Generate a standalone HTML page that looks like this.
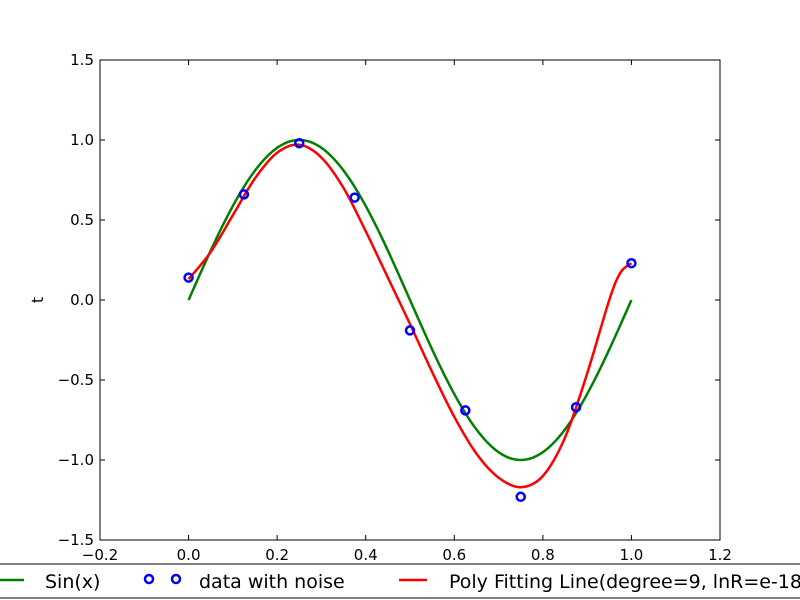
<!DOCTYPE html>
<html><head><meta charset="utf-8"><style>
body{margin:0;background:#fff;}
svg{display:block;font-family:"DejaVu Sans","Liberation Sans",sans-serif;}
</style></head><body>
<svg id="c" width="800" height="600"></svg>
<script>
const xTicks=[-0.2,0,0.2,0.4,0.6,0.8,1.0,1.2];
const xTickLabels=["\u22120.2","0.0","0.2","0.4","0.6","0.8","1.0","1.2"];
const yTicks=[-1.5,-1.0,-0.5,0,0.5,1.0,1.5];
const yTickLabels=["\u22121.5","\u22121.0","\u22120.5","0.0","0.5","1.0","1.5"];
const dataX=[0,0.125,0.25,0.375,0.5,0.625,0.75,0.875,1.0];
const dataT=[0.14,0.66,0.98,0.64,-0.19,-0.69,-1.23,-0.67,0.23];
const fitX=[0,0.05,0.1,0.15,0.2,0.25,0.3,0.35,0.4,0.45,0.5,0.55,0.6,0.65,0.7,0.75,0.8,0.85,0.9,0.95,0.975,1.0];
const fitY=[0.13,0.30,0.53,0.76,0.92,0.97,0.89,0.70,0.43,0.14,-0.15,-0.45,-0.73,-0.96,-1.11,-1.17,-1.10,-0.86,-0.46,0.0,0.17,0.23];
const L=100,R=720,T=60,B=540;
const sx=v=>L+(v+0.2)/1.4*(R-L);
const sy=v=>T+(1.5-v)/3*(B-T);
const svg=document.getElementById('c');
const NS='http://www.w3.org/2000/svg';
function mk(tag,attrs,parent){const e=document.createElementNS(NS,tag);for(const k in attrs)e.setAttribute(k,attrs[k]);(parent||svg).appendChild(e);return e;}
let d='';for(let i=0;i<=200;i++){const x=i/200;d+=(i?'L':'M')+sx(x).toFixed(2)+','+sy(Math.sin(2*Math.PI*x)).toFixed(2);}
const sl=mk('path',{d:d,fill:'none',stroke:'#008000','stroke-width':2.5});


const P=fitX.map((x,i)=>[sx(x),sy(fitY[i])]);
let fd='M'+P[0][0]+','+P[0][1];
for(let i=0;i<P.length-1;i++){const p0=P[Math.max(0,i-1)],p1=P[i],p2=P[i+1],p3=P[Math.min(P.length-1,i+2)];
fd+='C'+(p1[0]+(p2[0]-p0[0])/6)+','+(p1[1]+(p2[1]-p0[1])/6)+' '+(p2[0]-(p3[0]-p1[0])/6)+','+(p2[1]-(p3[1]-p1[1])/6)+' '+p2[0]+','+p2[1];}
const fl=mk('path',{d:fd,fill:'none',stroke:'#ff0000','stroke-width':2.5});


dataX.forEach((x,i)=>{const c=mk('circle',{cx:sx(x),cy:sy(dataT[i]),r:4,fill:'none',stroke:'#0000ff','stroke-width':2.5});

});
const fr=mk('rect',{x:L,y:T,width:R-L,height:B-T,fill:'none',stroke:'#000','stroke-width':1});


xTicks.forEach((v,i)=>{const x=sx(v);
mk('line',{x1:x,x2:x,y1:B,y2:B-5,stroke:'#000'});mk('line',{x1:x,x2:x,y1:T,y2:T+5,stroke:'#000'});
const t=mk('text',{x:x,y:B+20,'text-anchor':'middle','font-size':15});t.textContent=xTickLabels[i];

});
yTicks.forEach((v,i)=>{const y=sy(v);
mk('line',{x1:L,x2:L+5,y1:y,y2:y,stroke:'#000'});mk('line',{x1:R,x2:R-5,y1:y,y2:y,stroke:'#000'});
const t=mk('text',{x:L-6,y:y+5,'text-anchor':'end','font-size':15});t.textContent=yTickLabels[i];

});
const yl=mk('text',{x:43,y:300,'text-anchor':'middle','font-size':16,transform:'rotate(-90 43 300)'});yl.textContent='t';


const g=mk('g',{});


mk('rect',{x:-5,y:564,width:820,height:34,fill:'#fff',stroke:'#000','stroke-width':1},g);
mk('line',{x1:0,x2:24,y1:580,y2:580,stroke:'#008000','stroke-width':2.5},g);
let t1=mk('text',{x:45,y:588,'font-size':19},g);t1.textContent='Sin(x)';
mk('circle',{cx:149,cy:579,r:4,fill:'none',stroke:'#0000ff','stroke-width':2.5},g);
mk('circle',{cx:176,cy:579,r:4,fill:'none',stroke:'#0000ff','stroke-width':2.5},g);
let t2=mk('text',{x:199,y:588,'font-size':19},g);t2.textContent='data with noise';
mk('line',{x1:399,x2:427,y1:580,y2:580,stroke:'#ff0000','stroke-width':2.5},g);
let t3=mk('text',{x:449,y:588,'font-size':19},g);t3.textContent='Poly Fitting Line(degree=9, lnR=e-18)';
</script>
</body></html>
